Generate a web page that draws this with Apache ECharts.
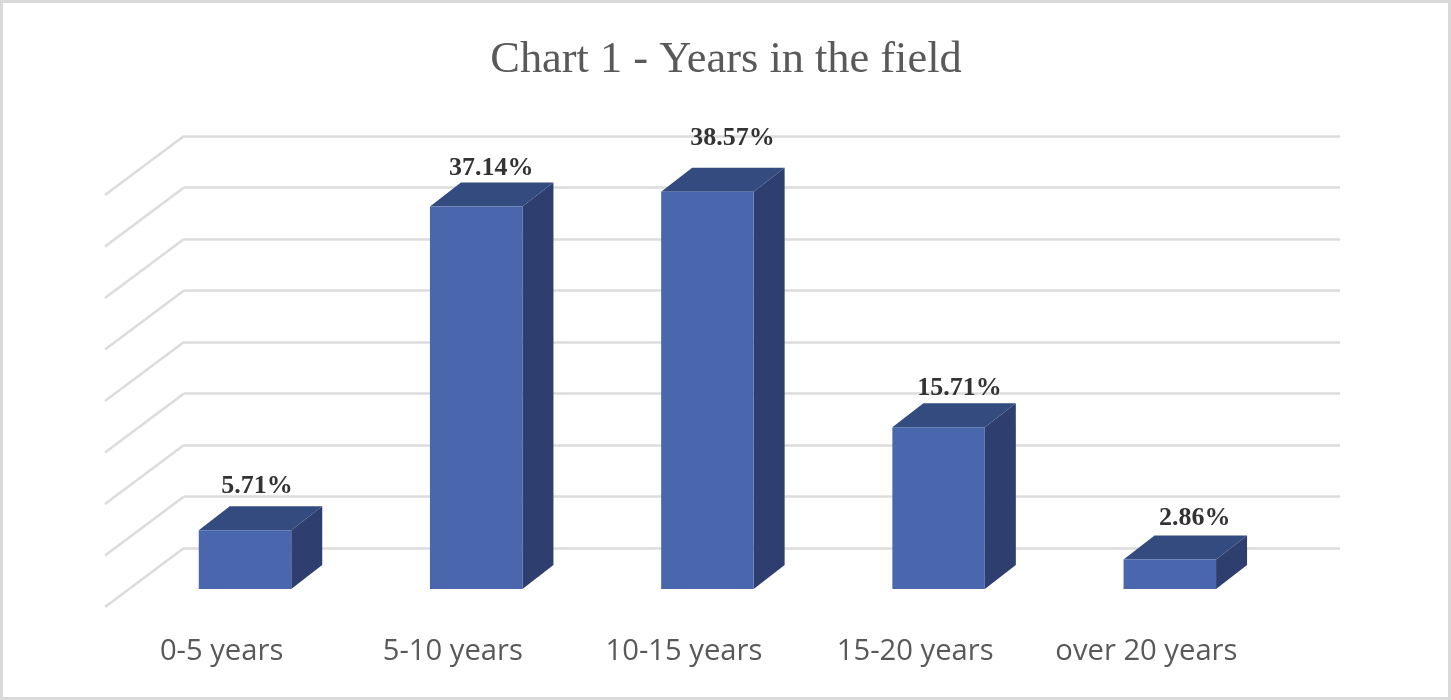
<!DOCTYPE html>
<html>
<head>
<meta charset="utf-8">
<style>html,body{margin:0;padding:0;background:#fff}#c{width:1451px;height:700px}</style>
<script src="https://cdn.jsdelivr.net/npm/echarts@6/dist/echarts.min.js"></script>
</head>
<body>
<div id="c"></div>
<script>
const titleText = 'Chart 1 - Years in the field';
const categories = ['0-5 years', '5-10 years', '10-15 years', '15-20 years', 'over 20 years'];
const shares = [5.71, 37.14, 38.57, 15.71, 2.86];
const yTicks = [0, 5, 10, 15, 20, 25, 30, 35, 40];

// perspective + label nudges (style, not data)
const front = {dx: -54.6, dy: 41};
const depth = {dx: 31, dy: -24};
const wallDiag = {dx: -79, dy: 59};
const labelNudge = [[12, -44], [15, -38], [25, -53], [21, -39], [25, -41]];

const chart = echarts.init(document.getElementById('c'), null, {renderer: 'canvas'});
chart.setOption({
  animation: false,
  backgroundColor: '#fff',
  title: {
    text: titleText, left: 721, top: 55, textAlign: 'center', textVerticalAlign: 'middle',
    textStyle: {fontFamily: 'Liberation Serif', fontSize: 44.4, fontWeight: 'normal', color: '#595959'}
  },
  graphic: [{
    type: 'rect', silent: true, z: -1,
    shape: {x: 1.5, y: 1.5, width: 1448, height: 697},
    style: {fill: 'none', stroke: '#d9d9d9', lineWidth: 3}
  }],
  grid: {left: 184, right: 111, top: 136, height: 412},
  xAxis: {
    type: 'category', data: categories,
    axisLine: {show: false}, axisTick: {show: false},
    axisLabel: {
      interval: 0, margin: 89, padding: [0, 156, 0, 0], align: 'center',
      fontFamily: 'Open Sans', fontSize: 29.2, color: '#595959'
    }
  },
  yAxis: {
    type: 'value', min: 0, max: 40, interval: 5,
    axisLine: {show: false}, axisTick: {show: false}, axisLabel: {show: false},
    splitLine: {show: true, lineStyle: {color: '#dcdcdc', width: 2.5}}
  },
  series: [{
    type: 'custom', coordinateSystem: 'cartesian2d', z: 1, silent: true,
    data: yTicks.map(v => [0, v]),
    encode: {x: 0, y: 1},
    renderItem(params, api) {
      const y = api.coord([0, api.value(1)])[1];
      const x = params.coordSys.x;
      return {
        type: 'line',
        shape: {x1: x, y1: y, x2: x + wallDiag.dx, y2: y + wallDiag.dy},
        style: {stroke: '#dcdcdc', lineWidth: 2.5}
      };
    }
  }, {
    type: 'custom', coordinateSystem: 'cartesian2d', z: 2, silent: true,
    data: shares.map((v, i) => [i, v]),
    encode: {x: 0, y: 1},
    renderItem(params, api) {
      const i = api.value(0), v = api.value(1);
      const top = api.coord([i, v]);
      const base = api.coord([i, 0]);
      const w = api.size([1, 0])[0] * 0.4;
      const xl = top[0] + front.dx - w / 2, xr = xl + w;
      const yt = top[1] + front.dy, yb = base[1] + front.dy;
      const d = depth;
      return {
        type: 'group',
        children: [
          {type: 'polygon', shape: {points: [[xr, yt], [xr + d.dx, yt + d.dy], [xr + d.dx, yb + d.dy], [xr, yb]]},
           style: {fill: '#2e3f6f'}},
          {type: 'polygon', shape: {points: [[xl, yt], [xl + d.dx, yt + d.dy], [xr + d.dx, yt + d.dy], [xr, yt]]},
           style: {fill: '#344b80'}},
          {type: 'rect', shape: {x: xl, y: yt, width: w, height: yb - yt},
           style: {fill: '#4a67ad'}},
          {type: 'text',
           style: {
             text: v.toFixed(2) + '%',
             x: xl + w / 2 + labelNudge[i][0], y: yt + labelNudge[i][1],
             align: 'center', verticalAlign: 'middle',
             font: 'bold 26px "Liberation Serif"', fill: '#333333'
           }}
        ]
      };
    }
  }]
});
</script>
</body>
</html>
